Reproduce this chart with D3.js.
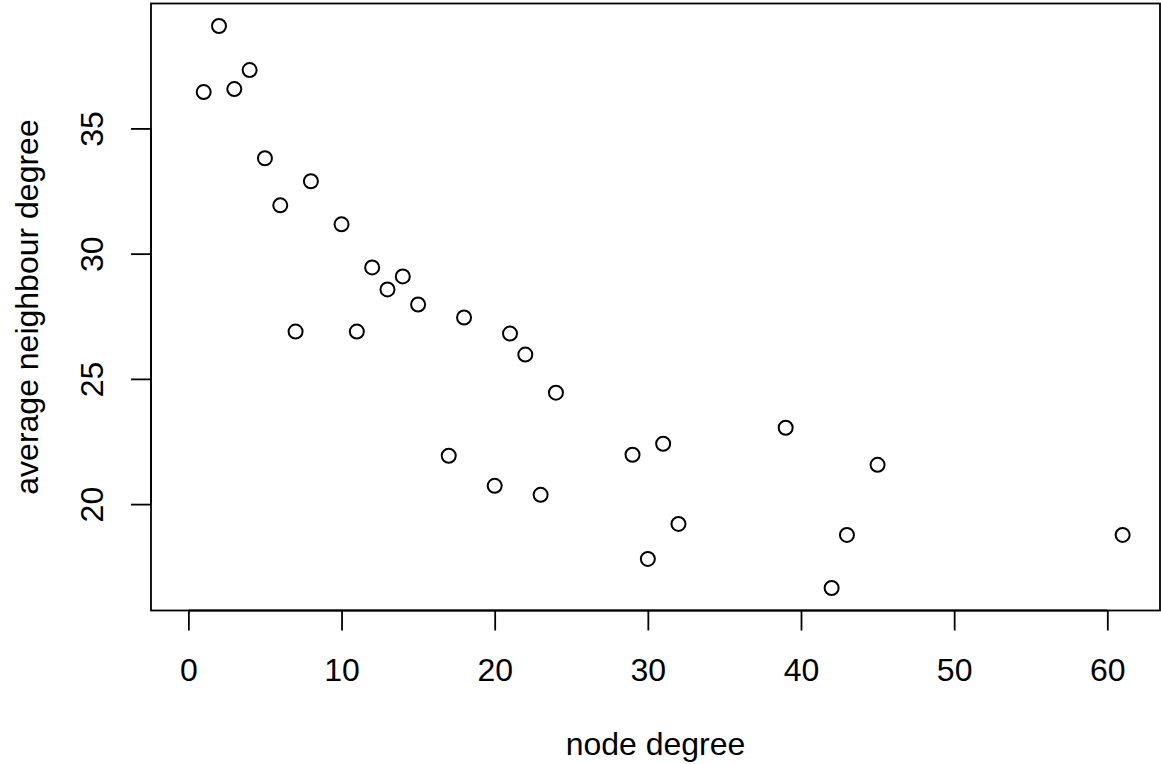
<!DOCTYPE html>
<html>
<head>
<meta charset="utf-8">
<script src="https://d3js.org/d3.v7.min.js"></script>
<style>
  body { margin: 0; background: #fff; }
  text { font-family: "Liberation Sans", Arial, sans-serif; fill: #000; }
</style>
</head>
<body>
<script>
// node degree (x) vs average neighbour degree (y)
var degree = [1, 2, 3, 4, 5, 6, 7, 8, 10, 11, 12, 13, 14, 15, 17, 18, 20, 21, 22, 23, 24, 29, 30, 31, 32, 39, 42, 43, 45, 61];
var avgNeighbour = [36.45, 39.09, 36.57, 37.33, 33.81, 31.93, 26.89, 32.89, 31.17, 26.89, 29.45, 28.57, 29.09, 27.97, 21.93, 27.45, 20.73, 26.81, 25.97, 20.37, 24.45, 21.97, 17.81, 22.41, 19.21, 23.05, 16.65, 18.77, 21.57, 18.77];
var xTicks = [0, 10, 20, 30, 40, 50, 60];
var yTicks = [20, 25, 30, 35];

var w = 1161, h = 764;
var box = { left: 151, right: 1160, top: 3.5, bottom: 610.5 };
var fs = 32;

// R style: 4% extension of the data range (x range also covers degree 0)
function extend(lo, hi) { var p = (hi - lo) * 0.04; return [lo - p, hi + p]; }

var x = d3.scaleLinear()
  .domain(extend(0, d3.max(degree)))
  .range([box.left, box.right]);
var y = d3.scaleLinear()
  .domain(extend(d3.min(avgNeighbour), d3.max(avgNeighbour)))
  .range([box.bottom, box.top]);

var svg = d3.select("body").append("svg")
  .attr("width", w)
  .attr("height", h);

var pts = degree.map(function(d, i) { return { x: d, y: avgNeighbour[i] }; });

svg.append("g")
  .selectAll("circle")
  .data(pts)
  .join("circle")
  .attr("cx", d => x(d.x))
  .attr("cy", d => y(d.y))
  .attr("r", 7)
  .attr("fill", "none")
  .attr("stroke", "#000")
  .attr("stroke-width", 2);

// frame
svg.append("rect")
  .attr("x", box.left).attr("y", box.top)
  .attr("width", box.right - box.left)
  .attr("height", box.bottom - box.top)
  .attr("fill", "none")
  .attr("stroke", "#000")
  .attr("stroke-width", 1.8);

// x axis
var xAxis = d3.axisBottom(x).tickValues(xTicks).tickSize(20).tickPadding(28).tickSizeOuter(0);
var gx = svg.append("g")
  .attr("transform", "translate(0," + box.bottom + ")")
  .call(xAxis);
gx.select(".domain").attr("d", "M" + x(0) + ",0H" + x(60)).attr("stroke-width", 1.8);
gx.selectAll(".tick line").attr("stroke-width", 1.8);
gx.selectAll("text").attr("font-size", fs).attr("font-family", null);

// y axis
var yAxis = d3.axisLeft(y).tickValues(yTicks).tickSize(20).tickSizeOuter(0);
var gy = svg.append("g")
  .attr("transform", "translate(" + box.left + ",0)")
  .call(yAxis);
gy.select(".domain").attr("d", "M0," + y(20) + "V" + y(35)).attr("stroke-width", 1.8);
gy.selectAll(".tick line").attr("stroke-width", 1.8);
gy.selectAll("text")
  .attr("font-size", fs).attr("font-family", null)
  .attr("x", null).attr("dy", null)
  .attr("text-anchor", "middle")
  .attr("transform", "translate(-48,0) rotate(-90)");

// titles
svg.append("text")
  .attr("x", (box.left + box.right) / 2)
  .attr("y", 755)
  .attr("text-anchor", "middle")
  .attr("font-size", fs)
  .text("node degree");

svg.append("text")
  .attr("transform", "translate(38," + (box.top + box.bottom) / 2 + ") rotate(-90)")
  .attr("text-anchor", "middle")
  .attr("font-size", fs)
  .text("average neighbour degree");
</script>
</body>
</html>
